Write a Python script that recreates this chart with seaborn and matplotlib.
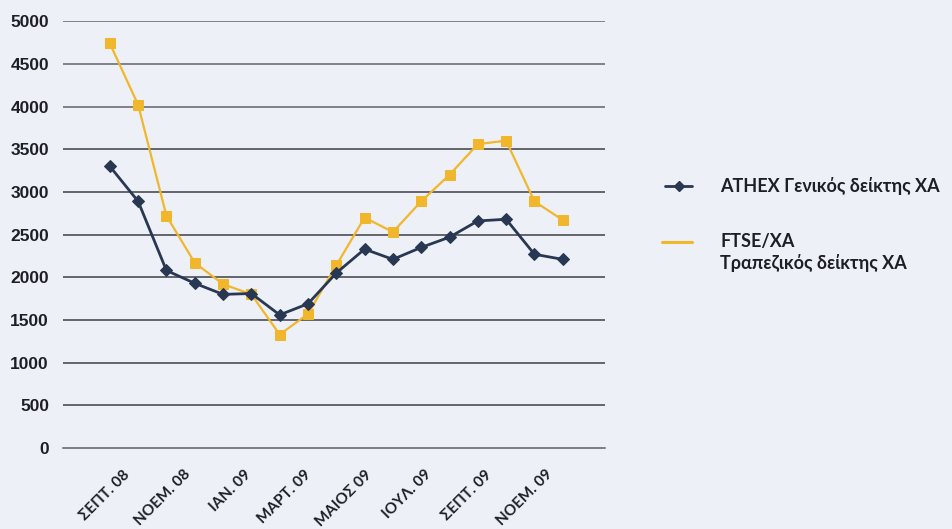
import matplotlib
matplotlib.use("Agg")
import matplotlib.pyplot as plt
import seaborn as sns
import pandas as pd
import numpy as np
from matplotlib.lines import Line2D

# Monthly closing levels, Sept 2008 onwards
athex = [3300, 2890, 2080, 1930, 1800, 1810, 1560, 1690, 2050,
         2330, 2210, 2350, 2470, 2660, 2680, 2270, 2210]
ftse_banks = [4740, 4020, 2720, 2170, 1920, 1800, 1330, 1570, 2140,
              2700, 2530, 2890, 3200, 3560, 3600, 2890, 2670]
month_labels = ["", "ΣΕΠΤ. 08", "ΝΟΕΜ. 08", "ΙΑΝ. 09", "ΜΑΡΤ. 09",
                "ΜΑΙΟΣ 09", "ΙΟΥΛ. 09", "ΣΕΠΤ. 09", "ΝΟΕΜ. 09", ""]
y_ticks = list(range(0, 5001, 500))

series_athex = "ATHEX Γενικός δείκτης ΧΑ"
series_ftse = ["FTSE/XA", "Τραπεζικός δείκτης ΧΑ"]

df = pd.DataFrame({"period": np.arange(len(athex)),
                   "athex": athex, "ftse": ftse_banks})

sns.set_theme(style="white")
plt.rcParams["font.family"] = ["Lato", "DejaVu Sans"]

bg = "#eef0f7"
navy = "#283852"
gold = "#f1b72c"
ink = "#1e1e28"

fig = plt.figure(figsize=(9.52, 5.29), dpi=100, facecolor=bg)
ax = fig.add_axes([0.066, 0.153, 0.57, 0.807])
ax.set_facecolor(bg)

sns.lineplot(data=df, x="period", y="ftse", ax=ax, color=gold, lw=1.6,
             marker="s", markersize=6.5, markeredgecolor=gold, zorder=4)
sns.lineplot(data=df, x="period", y="athex", ax=ax, color=navy, lw=2.0,
             marker="D", markersize=6, markeredgecolor=navy, zorder=5)

# category ticks sit on a slightly wider spacing than the data points
tick_step = 2.13
tick_pos = -1.66 + tick_step * np.arange(len(month_labels))
ax.set_xlim(tick_pos[0], tick_pos[-1])
ax.set_ylim(0, 5000)
ax.set_xticks(tick_pos)
ax.set_xticklabels(month_labels, rotation=45, ha="right",
                   rotation_mode="anchor", fontsize=11, fontweight="bold",
                   color=ink)
ax.set_yticks(y_ticks)
ax.set_yticklabels([str(v) for v in y_ticks], fontsize=12.5,
                   fontweight="bold", color=ink,
                   family=["Liberation Sans", "DejaVu Sans"])
ax.tick_params(axis="x", direction="out", length=5, width=0.8,
               color="#9a9aa5", pad=9)
ax.tick_params(axis="y", length=0, pad=10)
ax.set_xlabel("")
ax.set_ylabel("")

for v in y_ticks[1:]:
    col = "#6e6e7a" if v >= 4000 else "#4c4c56"
    ax.axhline(v, color=col, lw=1.2, zorder=1)
for side in ["top", "right", "left"]:
    ax.spines[side].set_visible(False)
ax.spines["bottom"].set_color("#5e5e6a")
ax.spines["bottom"].set_linewidth(1.1)

# key, placed to the right of the plot area
W, H = 952.0, 529.0
def fx(px):
    return px / W
def fy(py):
    return 1 - py / H

fig.add_artist(Line2D([fx(665), fx(692)], [fy(186), fy(186)], color=navy,
                      lw=2, transform=fig.transFigure))
fig.add_artist(Line2D([fx(679)], [fy(186)], color=navy, marker="D",
                      markersize=5, transform=fig.transFigure))
fig.text(fx(720), fy(186), series_athex, fontsize=13, fontweight="bold",
         color=ink, va="center", ha="left")

fig.add_artist(Line2D([fx(662), fx(692)], [fy(242), fy(242)], color=gold,
                      lw=2.2, transform=fig.transFigure))
fig.text(fx(720), fy(242), series_ftse[0], fontsize=13, fontweight="bold",
         color=ink, va="center", ha="left")
fig.text(fx(720), fy(263), series_ftse[1], fontsize=13, fontweight="bold",
         color=ink, va="center", ha="left")

fig.savefig("out.png", dpi=100, facecolor=bg)
